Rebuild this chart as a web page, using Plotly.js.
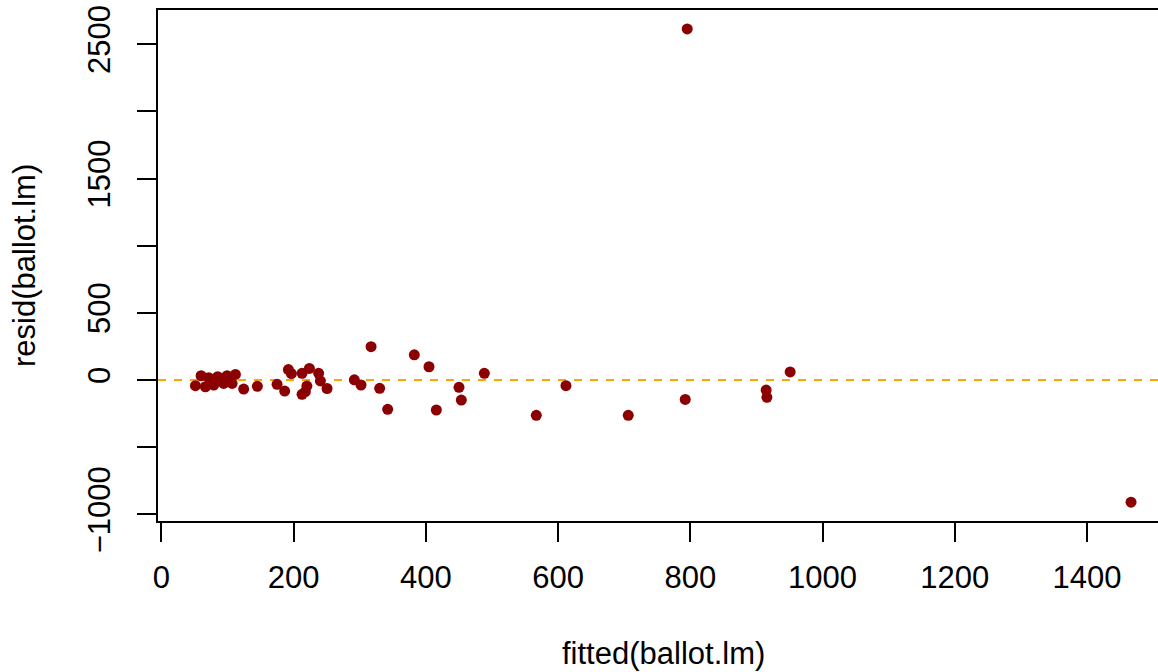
<!DOCTYPE html>
<html>
<head>
<meta charset="utf-8">
<script src="https://cdn.plot.ly/plotly-3.0.1.min.js"></script>
<style>html,body{margin:0;padding:0;background:#fff;}#plot{width:1158px;height:672px;}</style>
</head>
<body>
<div id="plot"></div>
<script>
const fittedValues = [51.4, 60.0, 66.5, 71.5, 79.1, 85.1, 94.2, 99.3, 106.9, 111.9, 124.4, 145.1,
  174.9, 186.4, 192.0, 196.6, 212.7, 223.8, 237.8, 240.4, 220.0, 217.7, 212.7, 250.5,
  291.8, 301.9, 317.1, 330.1, 342.2, 382.5, 404.7, 415.8, 450.1, 453.6, 488.4, 567.0,
  611.9, 706.1, 792.3, 795.3, 914.7, 915.8, 951.0, 1466.6];
const residValues = [-42, 32, -50, 17, -37, 25, -25, 32, -25, 42, -67, -47,
  -32, -82, 78, 48, 50, 86, 50, -7, -45, -87, -106, -63,
  2, -37, 248, -62, -218, 188, 99, -223, -54, -149, 50, -263,
  -42, -263, -144, 2614, -75, -129, 60, -909];
const xTickVals = [0, 200, 400, 600, 800, 1000, 1200, 1400];
const yTickVals = [-1000, -500, 0, 500, 1000, 1500, 2000, 2500];
const yTickText = ["\u22121000", "", "0", "500", "", "1500", "", "2500"];
const xTitle = "fitted(ballot.lm)";
const yTitle = "resid(ballot.lm)";

const fontFam = "Liberation Sans, Arial, sans-serif";
const fs = 31;

const trace = {
  x: fittedValues, y: residValues, type: 'scatter', mode: 'markers',
  marker: {color: '#8B0000', size: 11, line: {width: 0}},
  hoverinfo: 'x+y'
};

const layout = {
  width: 1158, height: 672,
  margin: {l: 158, r: 0, t: 10, b: 151, pad: 0},
  paper_bgcolor: '#ffffff', plot_bgcolor: '#ffffff',
  showlegend: false,
  font: {family: fontFam, size: fs, color: '#000'},
  xaxis: {
    range: [-5.2, 1507.4], showgrid: false, zeroline: false,
    showline: true, linecolor: '#000', linewidth: 2, mirror: true,
    ticks: 'outside', ticklen: 19, tickwidth: 2, tickcolor: '#000',
    tickvals: xTickVals, ticktext: xTickVals.map(String),
    tickfont: {family: fontFam, size: fs, color: '#000'},
    ticklabelstandoff: 9
  },
  yaxis: {
    range: [-1049.4, 2754.7], showgrid: false, zeroline: false,
    showline: true, linecolor: '#000', linewidth: 2,
    ticks: 'outside', ticklen: 19, tickwidth: 2, tickcolor: '#000',
    tickvals: yTickVals, ticktext: yTickText, tickangle: -90,
    tickfont: {family: fontFam, size: fs, color: '#000'},
    ticklabelstandoff: 15
  },
  shapes: [{
    type: 'line', xref: 'paper', x0: 0, x1: 1, yref: 'y', y0: 0, y1: 0,
    line: {color: '#FFA500', width: 2, dash: '8px,8px'}, layer: 'below'
  }],
  annotations: [
    {text: xTitle, xref: 'paper', yref: 'paper', x: 0.505, y: -0.2211, xanchor: 'center', yanchor: 'top',
     showarrow: false, font: {family: fontFam, size: fs, color: '#000'}},
    {text: yTitle, xref: 'paper', yref: 'paper', x: -0.1335, y: 0.50, xanchor: 'center', yanchor: 'middle',
     textangle: -90, showarrow: false, font: {family: fontFam, size: fs, color: '#000'}}
  ]
};

Plotly.newPlot('plot', [trace], layout, {displayModeBar: false, staticPlot: true});
</script>
</body>
</html>
